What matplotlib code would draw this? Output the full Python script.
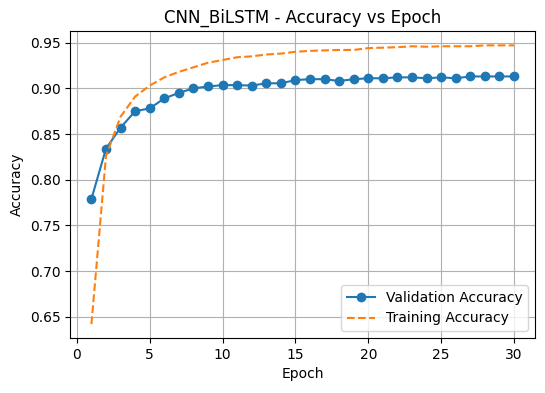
import matplotlib
matplotlib.use("Agg")
import matplotlib.pyplot as plt

# ── Data ──────────────────────────────────────────
epochs = list(range(1, 31))

val_acc = [0.779, 0.834, 0.857, 0.875, 0.878, 0.889, 0.895, 0.900, 0.902, 0.9035,
           0.9035, 0.903, 0.9055, 0.9055, 0.909, 0.910, 0.910, 0.908, 0.910, 0.911,
           0.911, 0.912, 0.912, 0.911, 0.912, 0.911, 0.913, 0.913, 0.913, 0.913]

train_acc = [0.642, 0.826, 0.869, 0.891, 0.903, 0.912, 0.918, 0.923, 0.928, 0.931,
             0.934, 0.935, 0.937, 0.938, 0.940, 0.941, 0.9415, 0.942, 0.942, 0.944,
             0.9445, 0.945, 0.946, 0.9455, 0.946, 0.946, 0.946, 0.947, 0.947, 0.947]

# ── Plot ──────────────────────────────────────────
fig, ax = plt.subplots(figsize=(5.45, 3.93), dpi=100)
fig.subplots_adjust(left=0.129, right=0.982, top=0.920, bottom=0.140)

ax.plot(epochs, val_acc, marker="o", label="Validation Accuracy")
ax.plot(epochs, train_acc, linestyle="--", label="Training Accuracy")

ax.set_title("CNN_BiLSTM - Accuracy vs Epoch")
ax.set_xlabel("Epoch")
ax.set_ylabel("Accuracy")
ax.legend(loc="lower right")
ax.grid(True)

fig.savefig("out.png", dpi=100)
